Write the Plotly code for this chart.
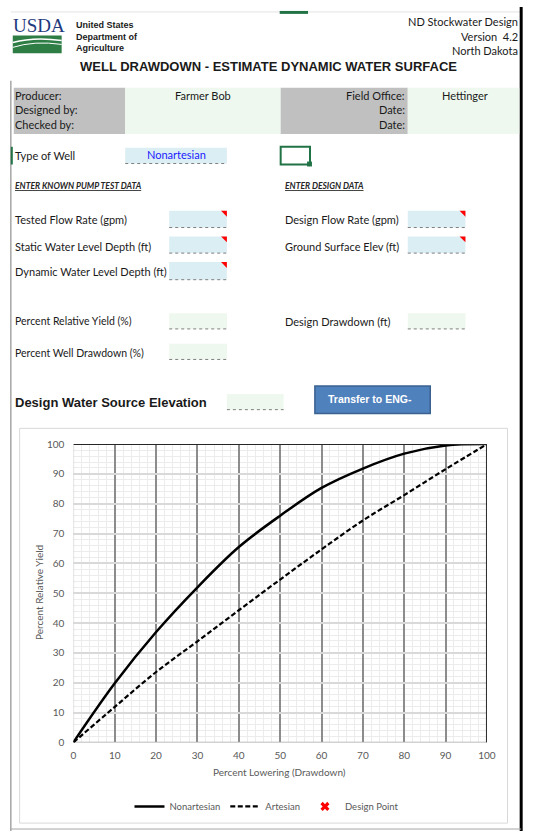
import plotly.graph_objects as go

# ---------------- data ----------------
drawdown_pct = [0, 10, 20, 30, 40, 50, 60, 70, 80, 90, 100]
nonartesian_yield = [0, 19.8, 37.0, 52.0, 65.5, 76.0, 85.3, 91.8, 96.8, 99.5, 100]
artesian_yield = [0, 11.9, 23.6, 33.9, 44.3, 54.6, 64.7, 74.4, 82.9, 91.6, 100]
design_point_x = [None]
design_point_y = [None]
tick_values = [0, 10, 20, 30, 40, 50, 60, 70, 80, 90, 100]
series_names = ["Nonartesian", "Artesian", "Design Point"]

W, H = 538, 837
FORM_FONT = "Lato"
CHART_FONT = "Lato"


def fx(x):
    return x / W


def fy(y):
    return 1 - y / H


shapes = []
annotations = []


def rect(x0, y0, x1, y1, fill="rgba(0,0,0,0)", line=None, lw=0, layer="below"):
    shapes.append(dict(type="rect", xref="paper", yref="paper",
                       x0=fx(x0), x1=fx(x1), y0=fy(y1), y1=fy(y0),
                       fillcolor=fill, layer=layer,
                       line=dict(color=line or "rgba(0,0,0,0)", width=lw)))


def hline(x0, x1, y, color, lw=1, dash=None, layer="below"):
    d = dict(color=color, width=lw)
    if dash:
        d["dash"] = dash
    shapes.append(dict(type="line", xref="paper", yref="paper",
                       x0=fx(x0), x1=fx(x1), y0=fy(y), y1=fy(y), line=d, layer=layer))


def vline(x, y0, y1, color, lw=1, layer="below"):
    shapes.append(dict(type="line", xref="paper", yref="paper",
                       x0=fx(x), x1=fx(x), y0=fy(y0), y1=fy(y1),
                       line=dict(color=color, width=lw), layer=layer))


def text(x, y, s, size=11, color="#1a1a1a", anchor="left", family=FORM_FONT, angle=0):
    annotations.append(dict(x=fx(x), y=fy(y), xref="paper", yref="paper",
                            text=s, showarrow=False, xanchor=anchor, yanchor="middle",
                            textangle=angle, borderpad=0,
                            font=dict(size=size, color=color, family=family)))


def red_tri(xr, yt):
    shapes.append(dict(type="path", xref="paper", yref="paper",
                       path=f"M {fx(xr-6)} {fy(yt)} L {fx(xr)} {fy(yt)} L {fx(xr)} {fy(yt+6)} Z",
                       fillcolor="#ff0000", line=dict(width=0), layer="above"))


def input_box(x0, y0, x1, y1, kind="blue"):
    fill = "#dbeef4" if kind == "blue" else "#eef8ee"
    rect(x0, y0, x1, y1, fill=fill)
    hline(x0, x1, y1, "#7f7f7f", 1, dash="dot")
    if kind == "blue":
        red_tri(x1, y0)


# ---------------- page frame ----------------
hline(8, 530, 5, "#e3e3e3", 1)
rect(283, 4, 312, 7, fill="#217346")
vline(8, 75, 837, "#a6a6a6", 1.5)
vline(530, 0, 837, "#000000", 3)
hline(8, 530, 835, "#a6a6a6", 1)

# USDA logo
text(9, 19, "USDA", size=19, color="#1f3a7d", family="Liberation Serif")
rect(10, 29, 60, 47, fill="#2e7d45")
shapes.append(dict(type="path", xref="paper", yref="paper",
                   path=f"M {fx(10)} {fy(36)} Q {fx(32)} {fy(30)} {fx(60)} {fy(34)}",
                   line=dict(color="white", width=1.5), layer="below"))
shapes.append(dict(type="path", xref="paper", yref="paper",
                   path=f"M {fx(10)} {fy(41)} Q {fx(32)} {fy(34)} {fx(60)} {fy(38)}",
                   line=dict(color="white", width=1), layer="below"))
text(74, 18, "<b>United States</b>", size=9, color="#1a1a1a", family="Liberation Sans")
text(74, 30, "<b>Department of</b>", size=9, color="#1a1a1a", family="Liberation Sans")
text(74, 42, "<b>Agriculture</b>", size=9, color="#1a1a1a", family="Liberation Sans")

text(528, 15, "ND Stockwater Design", size=11, anchor="right")
text(528, 30, "Version  4.2", size=11, anchor="right")
text(528, 44, "North Dakota", size=11, anchor="right")
text(272, 60, "<b>WELL DRAWDOWN - ESTIMATE DYNAMIC WATER SURFACE</b>", size=13,
     anchor="center", family="Liberation Sans")

# header block
rect(11, 82, 125, 129, fill="#c0c0c0")
rect(125, 82, 284, 129, fill="#eef8ee")
rect(284, 82, 414, 129, fill="#c0c0c0")
rect(414, 82, 528, 129, fill="#eef8ee")
text(11, 90, "Producer:")
text(11, 104, "Designed by:")
text(11, 119, "Checked by:")
text(205, 90, "Farmer Bob", anchor="center")
text(412, 90, "Field Office:", anchor="right")
text(412, 104, "Date:", anchor="right")
text(412, 119, "Date:", anchor="right")
text(473, 90, "Hettinger", anchor="center")

# type of well
vline(9, 142, 160, "#217346", 2)
text(11, 151, "Type of Well")
rect(125, 143, 229, 159, fill="#dbeef4")
hline(125, 229, 159, "#7f7f7f", 1, dash="dot")
text(177, 150, "Nonartesian", color="#1a1aff", anchor="center")
rect(284, 142, 314, 160, line="#217346", lw=2)
rect(311, 157, 316, 162, fill="#217346", layer="above")

text(11, 182, "<b><i><u>ENTER KNOWN PUMP TEST DATA</u></i></b>", size=8.5, color="#262626")
text(287, 182, "<b><i><u>ENTER DESIGN DATA</u></i></b>", size=8.5, color="#262626")

text(11, 216, "Tested Flow Rate (gpm)")
input_box(170, 207, 229, 224)
text(11, 243, "Static Water Level Depth (ft)")
input_box(170, 233, 229, 250)
text(11, 269, "Dynamic Water Level Depth (ft)")
input_box(170, 259, 229, 277)

text(287, 216, "Design Flow Rate (gpm)")
input_box(414, 207, 473, 224)
text(287, 243, "Ground Surface Elev (ft)")
input_box(414, 233, 473, 250)

text(11, 319, "Percent Relative Yield (%)", size=10.5)
input_box(170, 311, 229, 327, kind="green")
text(287, 319, "Design Drawdown (ft)")
input_box(414, 311, 473, 327, kind="green")
text(11, 351, "Percent Well Drawdown (%)", size=10.5)
input_box(170, 342, 229, 358, kind="green")

text(11, 402, "<b>Design Water Source Elevation</b>", size=13, family="Liberation Sans")
input_box(229, 393, 287, 409, kind="green")

shapes.append(dict(type="rect", xref="paper", yref="paper",
                   x0=fx(319), x1=fx(437), y0=fy(413), y1=fy(385),
                   fillcolor="#4f81bd", line=dict(color="#3a6190", width=1.5), layer="below"))
text(331, 398, "<b>Transfer to ENG-</b>", size=10.5, color="white", family="Liberation Sans")

# chart frame
rect(17, 428, 516, 829, fill="white", line="#d9d9d9", lw=1)

# ---------------- chart ----------------
fig = go.Figure()
fig.add_trace(go.Scatter(x=drawdown_pct, y=nonartesian_yield, name=series_names[0],
                         mode="lines", line=dict(color="black", width=2.5, shape="spline"),
                         xaxis="x", yaxis="y"))
fig.add_trace(go.Scatter(x=drawdown_pct, y=artesian_yield, name=series_names[1],
                         mode="lines",
                         line=dict(color="black", width=2.2, dash="5px,2.5px", shape="spline"),
                         xaxis="x", yaxis="y"))
fig.add_trace(go.Scatter(x=design_point_x, y=design_point_y, name=series_names[2],
                         mode="markers", marker=dict(color="#ff0000", symbol="x", size=8),
                         xaxis="x", yaxis="y"))

# plot edges
shapes.append(dict(type="line", xref="x", yref="y", x0=0, x1=0, y0=0, y1=100,
                   line=dict(color="#d9d9d9", width=1.5), layer="between"))
shapes.append(dict(type="line", xref="x", yref="y", x0=0, x1=100, y0=0, y1=0,
                   line=dict(color="#a6a6a6", width=1.5), layer="between"))
shapes.append(dict(type="line", xref="x", yref="y", x0=0, x1=100, y0=100, y1=100,
                   line=dict(color="#262626", width=2), layer="above"))
shapes.append(dict(type="line", xref="x", yref="y", x0=100, x1=100, y0=0, y1=100,
                   line=dict(color="#262626", width=2), layer="above"))

text(283, 777, "Percent Lowering (Drawdown)", size=10, color="#595959", anchor="center",
     family=CHART_FONT)
text(37, 595, "Percent Relative Yield", size=10, color="#595959", anchor="center",
     family=CHART_FONT, angle=-90)

fig.update_layout(
    width=W, height=H,
    margin=dict(l=0, r=0, t=0, b=0),
    paper_bgcolor="white", plot_bgcolor="white",
    shapes=shapes, annotations=annotations,
    showlegend=True,
    legend=dict(orientation="h", x=fx(270), xanchor="center", y=fy(812), yanchor="middle",
                font=dict(size=9.5, color="#595959", family=CHART_FONT),
                itemwidth=30, bgcolor="rgba(0,0,0,0)"),
    xaxis=dict(domain=[fx(72), fx(495)], range=[0, 100], tickvals=tick_values,
               showgrid=True, gridcolor="#8c8c8c", gridwidth=1.5,
               minor=dict(dtick=2, showgrid=True, gridcolor="#ececec", gridwidth=1),
               zeroline=False, showline=False, ticks="",
               tickfont=dict(size=10, color="#595959", family=CHART_FONT),
               ticklabelstandoff=6, fixedrange=True),
    yaxis=dict(domain=[fy(747), fy(444)], range=[0, 100], tickvals=tick_values,
               showgrid=True, gridcolor="#d9d9d9", gridwidth=1.5,
               minor=dict(dtick=2, showgrid=True, gridcolor="#ececec", gridwidth=1),
               zeroline=False, showline=False, ticks="",
               tickfont=dict(size=10, color="#595959", family=CHART_FONT),
               ticklabelstandoff=8, fixedrange=True),
)

fix_margin = ("}); document.body.style.margin='0'; "
              "document.body.style.overflow='hidden'; (function(){")
fig.write_html("out.html", config={"displayModeBar": False}, post_script=fix_margin)
